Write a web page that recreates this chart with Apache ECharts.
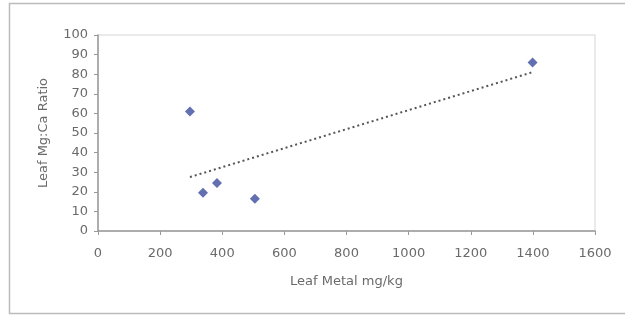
<!DOCTYPE html>
<html>
<head>
<meta charset="utf-8">
<script src="https://cdn.jsdelivr.net/npm/echarts@6/dist/echarts.min.js"></script>
<style>
  html, body { margin: 0; padding: 0; background: #fff; }
  #chart { width: 625px; height: 318px; }
</style>
</head>
<body>
<div id="chart"></div>
<script>
// data
var metal = [296, 338, 383, 505, 1399];   // Leaf Metal mg/kg
var ratio = [61, 19.5, 24.5, 16.5, 86];   // Leaf Mg:Ca Ratio
var xTicks = [0, 200, 400, 600, 800, 1000, 1200, 1400, 1600];
var yTicks = [0, 10, 20, 30, 40, 50, 60, 70, 80, 90, 100];

// least squares trend line through the points
function linearFit(xs, ys) {
    var n = xs.length, mx = 0, my = 0, sxy = 0, sxx = 0, i;
    for (i = 0; i < n; i++) { mx += xs[i]; my += ys[i]; }
    mx /= n; my /= n;
    for (i = 0; i < n; i++) {
        sxy += (xs[i] - mx) * (ys[i] - my);
        sxx += (xs[i] - mx) * (xs[i] - mx);
    }
    var k = sxy / sxx;
    return { k: k, b: my - k * mx };
}

var fit = linearFit(metal, ratio);
var xMin = Math.min.apply(null, metal);
var xMax = Math.max.apply(null, metal);
var trend = [[xMin, fit.k * xMin + fit.b], [xMax, fit.k * xMax + fit.b]];

var points = metal.map(function(v, i) {
    return [v, ratio[i]];
});

var labelStyle = { color: '#6a6a6a', fontFamily: 'DejaVu Sans', fontSize: 13 };

var chart = echarts.init(document.getElementById('chart'));
chart.setOption({
    animation: false,
    graphic: [{
        type: 'rect',
        shape: { x: 9.5, y: 3.5, width: 640, height: 310 },
        style: { fill: 'none', stroke: '#bbb', lineWidth: 1.5 },
        silent: true
    }, {
        type: 'rect',
        shape: { x: 98, y: 35, width: 497, height: 196 },
        style: { fill: 'none', stroke: '#e3e3e8', lineWidth: 1.5 },
        silent: true
    }],
    grid: { left: 98, right: 30, top: 35, bottom: 87, containLabel: false },
    xAxis: {
        type: 'value',
        min: xTicks[0],
        max: xTicks[xTicks.length - 1],
        interval: 200,
        name: 'Leaf Metal mg/kg',
        nameLocation: 'middle',
        nameGap: 44,
        nameTextStyle: labelStyle,
        axisLine: { lineStyle: { color: '#999', width: 1.5 } },
        axisTick: { show: true, length: 4, lineStyle: { color: '#999' } },
        axisLabel: Object.assign({ margin: 16, formatter: function(v) { return String(v); } }, labelStyle),
        splitLine: { show: false }
    },
    yAxis: {
        type: 'value',
        min: yTicks[0],
        max: yTicks[yTicks.length - 1],
        interval: 10,
        name: 'Leaf Mg:Ca Ratio',
        nameLocation: 'middle',
        nameGap: 48,
        nameTextStyle: labelStyle,
        axisLine: { show: true, lineStyle: { color: '#999', width: 1.5 } },
        axisTick: { show: true, length: 4, lineStyle: { color: '#999' } },
        axisLabel: Object.assign({ margin: 10 }, labelStyle),
        splitLine: { show: false }
    },
    series: [{
        type: 'line',
        data: trend,
        symbol: 'none',
        lineStyle: { color: '#555', width: 2, type: [2, 3] },
        z: 1
    }, {
        type: 'scatter',
        data: points,
        symbol: 'diamond',
        symbolSize: 10,
        itemStyle: { color: '#3b4b9e' },
        z: 2
    }]
});
</script>
</body>
</html>
